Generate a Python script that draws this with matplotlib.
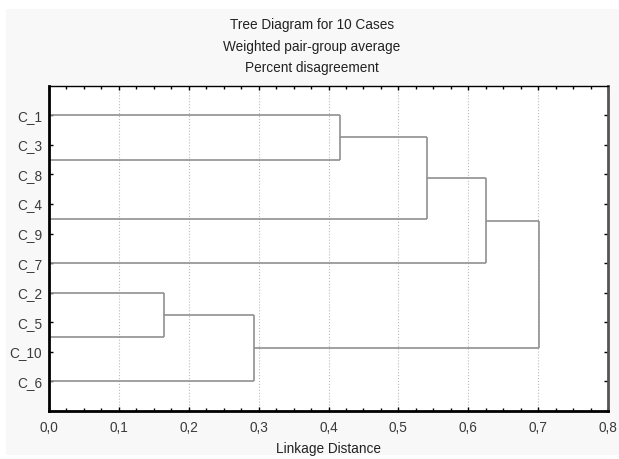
import matplotlib
matplotlib.use('Agg')
import matplotlib.pyplot as plt
import matplotlib.patches as mpatches
import numpy as np

plt.rcParams['font.family'] = ['Liberation Sans', 'DejaVu Sans']

# leaves top to bottom
labels = ['C_1', 'C_3', 'C_8', 'C_4', 'C_9', 'C_7', 'C_2', 'C_5', 'C_10', 'C_6']
# merges: (cluster a, cluster b, linkage distance), new clusters numbered from 10
merge_a = [1, 3, 7, 6, 13, 0, 15, 16, 17]
merge_b = [2, 4, 8, 12, 9, 10, 11, 5, 14]
merge_dist = [0.0, 0.0, 0.0, 0.165, 0.293, 0.417, 0.541, 0.626, 0.701]

xticks = [0.0, 0.1, 0.2, 0.3, 0.4, 0.5, 0.6, 0.7, 0.8]
xticklabels = ['0,0', '0,1', '0,2', '0,3', '0,4', '0,5', '0,6', '0,7', '0,8']

fs = 9.8
fig = plt.figure(figsize=(6.19, 4.59), dpi=100)
fig.patch.set_facecolor('white')
bg = mpatches.Rectangle((6 / 619, 4 / 459), 613 / 619, 446 / 459,
                        transform=fig.transFigure, facecolor='#f8f8f8',
                        edgecolor='none', zorder=-10)
fig.patches.append(bg)

ax = fig.add_axes([49 / 619, 48 / 459, 559 / 619, 325.3 / 459])
ax.set_facecolor('white')

# positions and heights of each cluster
ypos = {i: i + 1.0 for i in range(len(labels))}
height = {i: 0.0 for i in range(len(labels))}
line_col = '#909090'
for k, (a, b, d) in enumerate(zip(merge_a, merge_b, merge_dist)):
    new = len(labels) + k
    ya, yb = ypos[a], ypos[b]
    if d > 0:
        ax.plot([height[a], d], [ya, ya], color=line_col, lw=1.2, solid_capstyle='butt')
        ax.plot([height[b], d], [yb, yb], color=line_col, lw=1.2, solid_capstyle='butt')
        ax.plot([d, d], [ya, yb], color=line_col, lw=1.2, solid_capstyle='butt')
    ypos[new] = (ya + yb) / 2
    height[new] = d

ax.set_xlim(0, 0.8)
ax.set_ylim(len(labels) + 1, 0)
ax.set_yticks(np.arange(1, len(labels) + 1))
ax.set_yticklabels(labels)
ax.set_xticks(xticks)
ax.set_xticklabels(xticklabels)
ax.set_xticks(np.arange(0, 0.8001, 0.025), minor=True)

for xv in xticks[1:-1]:
    ax.axvline(xv, color='#bbbbbb', linestyle=':', linewidth=0.8, zorder=0)
ax.tick_params(axis='both', which='major', direction='in', length=3, width=1,
               labelsize=fs, colors='black', labelcolor='#3a3a3a',
               top=True, right=True)
ax.tick_params(axis='x', which='major', pad=7)
ax.tick_params(axis='y', which='major', pad=5)
ax.tick_params(axis='x', which='minor', direction='in', length=2, width=1,
               top=True, bottom=True)
ax.tick_params(axis='y', which='minor', left=False, right=False)

ax.spines['left'].set_linewidth(2)
ax.spines['bottom'].set_linewidth(2)
ax.spines['top'].set_linewidth(1)
ax.spines['right'].set_linewidth(2)
ax.spines['right'].set_color('#555555')

ax.set_xlabel('Linkage Distance', fontsize=fs, color='#222222', labelpad=5)

fig.text(0.504, 1 - 25 / 459, 'Tree Diagram for 10 Cases', ha='center', va='center',
         fontsize=fs, color='#222222')
fig.text(0.504, 1 - 46.5 / 459, 'Weighted pair-group average', ha='center', va='center',
         fontsize=fs, color='#222222')
fig.text(0.504, 1 - 68 / 459, 'Percent disagreement', ha='center', va='center',
         fontsize=fs, color='#222222')

fig.savefig('out.png', dpi=100)
